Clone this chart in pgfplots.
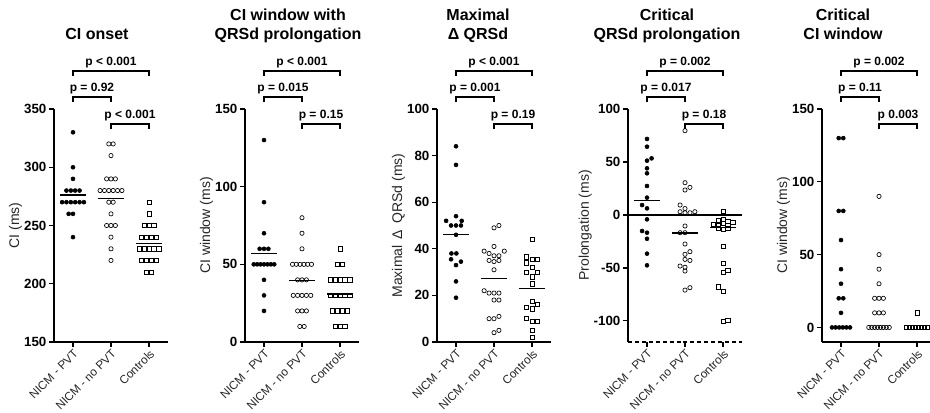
\documentclass[border=0pt]{standalone}
\usepackage{pgfplots}
\pgfplotsset{compat=1.18}
\usepackage{fontspec}
\setmainfont{Liberation Sans}
\newcommand{\pbr}[5]{%
  \draw[line width=1.1pt] ([yshift=-3.5pt]rel axis cs:#1,#3) -- (rel axis cs:#1,#3) -- (rel axis cs:#2,#3) -- ([yshift=-3.5pt]rel axis cs:#2,#3);
  \node[anchor=base, font=\bfseries\fontsize{9}{10}\selectfont, inner sep=0pt] at ([yshift=3.8pt]rel axis cs:#4,#3) {#5};
}
\newcommand{\brackets}[3]{%
  \pbr{0.1667}{0.8333}{1.163}{0.5}{#1}
  \pbr{0.1667}{0.5}{1.052}{0.3333}{#2}
  \pbr{0.5}{0.8333}{0.936}{0.6667}{#3}
}
\begin{document}
\begin{tikzpicture}
\pgfplotsset{
  panel/.style={
    scale only axis, width=85.5pt, height=174.75pt,
    xmin=0.5, xmax=3.5,
    axis x line=bottom, axis y line=left,
    axis line style={-, line width=1.1pt},
    tick style={line width=1pt, black},
    major tick length=3.5pt,
    tick align=outside,
    xtick={1,2,3},
    xticklabels={NICM - PVT, NICM - no PVT, Controls},
    xticklabel style={rotate=45, anchor=north east, font=\fontsize{8.8}{10}\selectfont, inner sep=1pt, text=black!85},
    yticklabel style={font=\bfseries\fontsize{10}{11}\selectfont, inner sep=2pt},
    /pgf/number format/assume math mode=true,
    ylabel style={font=\fontsize{10.5}{12}\selectfont, text=black!85},
    ylabel shift=-4pt,
    clip=false,
    enlargelimits=false,
    anchor=south west,
  },
  pvt/.style={only marks, mark=*, mark size=1.5pt, black},
  npvt/.style={only marks, mark=o, mark size=1.6pt, black, mark options={line width=0.5pt, fill=white}},
  ctrl/.style={only marks, mark=square, mark size=1.6pt, black, mark options={line width=0.5pt}},
  mline/.style={no marks, line width=1.1pt, black},
}
\path[use as bounding box] (0,0) rectangle (697.5pt,309.75pt);

% Panel 1
\begin{axis}[panel, at={(40.5pt,53.25pt)}, ymin=150, ymax=350, ytick={150,200,250,300,350}, ylabel={CI (ms)}]
\addplot[pvt] coordinates {(1,330)(1,300)(1,290)(0.8275,280)(0.9425,280)(1.0575,280)(1.1725,280)(0.7125,270)(0.8275,270)(0.9425,270)(1.0575,270)(1.1725,270)(1.2875,270)(0.885,260)(1.0,260)(1,240)};
\addplot[npvt] coordinates {(1.9425,320)(2.0575,320)(2,310)(1.885,290)(2,290)(2.115,290)(1.7125,280)(1.8275,280)(1.9425,280)(2.0575,280)(2.1725,280)(2.2875,280)(1.9425,270)(2.0575,270)(2,260)(1.885,250)(2,250)(2.115,250)(2,240)(2,230)(2,220)};
\addplot[ctrl] coordinates {(3,270)(3,260)(2.87,250)(3,250)(3.13,250)(2.805,240)(2.935,240)(3.065,240)(3.195,240)(2.74,230)(2.87,230)(3,230)(3.13,230)(3.26,230)(2.805,220)(2.935,220)(3.065,220)(3.195,220)(2.935,210)(3.065,210)};
\addplot[mline] coordinates {(0.66,276.3)(1.34,276.3)};
\addplot[mline] coordinates {(1.66,273.4)(2.34,273.4)};
\addplot[mline] coordinates {(2.66,234.5)(3.34,234.5)};
\brackets{p < 0.001}{p = 0.92}{p < 0.001}
\end{axis}

% Panel 2
\begin{axis}[panel, at={(183.75pt,53.25pt)}, ymin=0, ymax=150, ytick={0,50,100,150}, ylabel={CI window (ms)}]
\addplot[pvt] coordinates {(1,130)(1,90)(1,70)(0.885,60)(1,60)(1.115,60)(0.73,50)(0.82,50)(0.91,50)(1,50)(1.09,50)(1.18,50)(1.27,50)(1,40)(1,30)(1,20)};
\addplot[npvt] coordinates {(2,80)(2,70)(2,60)(1.75,50)(1.85,50)(1.95,50)(2.05,50)(2.15,50)(2.25,50)(1.885,40)(2,40)(2.115,40)(1.77,30)(1.885,30)(2,30)(2.115,30)(2.23,30)(1.885,20)(2,20)(2.115,20)(1.9425,10)(2.0575,10)};
\addplot[ctrl] coordinates {(3,60)(2.935,50)(3.065,50)(2.74,40)(2.87,40)(3,40)(3.13,40)(3.26,40)(2.74,30)(2.87,30)(3,30)(3.13,30)(3.26,30)(2.805,20)(2.935,20)(3.065,20)(3.195,20)(2.87,10)(3,10)(3.13,10)};
\addplot[mline] coordinates {(0.66,57)(1.34,57)};
\addplot[mline] coordinates {(1.66,39.5)(2.34,39.5)};
\addplot[mline] coordinates {(2.66,31)(3.34,31)};
\brackets{p < 0.001}{p = 0.015}{p = 0.15}
\end{axis}

% Panel 3
\begin{axis}[panel, at={(327.75pt,53.25pt)}, ymin=0, ymax=100, ytick={0,20,40,60,80,100}, ylabel={Maximal \,Δ\, QRSd (ms)}]
\addplot[pvt] coordinates {(1,84)(1,76)(1,54)(0.74,52)(1.15,52)(0.87,50)(1,50)(1.13,50)(1,46)(0.88,38)(1.01,38)(0.87,35.5)(1.13,34.5)(1,33)(1,26)(1,19)};
\addplot[npvt] coordinates {(2,49)(2.13,50)(2,41)(1.74,39)(1.87,38)(2,37)(2.13,37)(2.27,39)(1.87,35)(2,34.5)(2.13,35)(2,31)(1.74,22)(1.87,21)(2,21)(2.13,21)(2,18)(2.13,18)(1.87,10)(2,10)(2.13,11)(2,4)(2.13,5)};
\addplot[ctrl] coordinates {(3,44)(2.86,36.5)(2.86,34)(3,35.5)(3.14,35.5)(3,32)(2.86,30)(3.14,30)(3,28)(3,25)(3,17.3)(3.14,16.2)(2.86,15)(3,14.2)(2.86,10.2)(3,9)(3.14,9)(3,5)(3,2)};
\addplot[mline] coordinates {(0.66,46.2)(1.34,46.2)};
\addplot[mline] coordinates {(1.66,27.2)(2.34,27.2)};
\addplot[mline] coordinates {(2.66,23)(3.34,23)};
\brackets{p < 0.001}{p = 0.001}{p = 0.19}
\end{axis}

% Panel 4
\begin{axis}[panel, at={(471pt,53.25pt)}, ymin=-120, ymax=100, ytick={-100,-50,0,50,100}, ylabel={Prolongation (ms)},
  x axis line style={dash pattern=on 3pt off 2.2pt}]
\draw[line width=1.1pt] (axis cs:0.5,0) -- (axis cs:3.5,0);
\addplot[pvt] coordinates {(1,71.7)(1,64.4)(1.12,53.4)(1,51.2)(1,44)(1,39.3)(1,27.3)(1,16.3)(0.87,9.3)(1,6.2)(1,-4.2)(0.87,-15.2)(1,-16.8)(1,-22.5)(1,-36.6)(1,-47.6)};
\addplot[npvt] coordinates {(2,79.5)(2,30.4)(2,23.5)(2.13,26)(1.87,9.3)(2,6)(1.87,3)(2,2)(2.13,2)(2.26,3)(2,-10.5)(1.87,-16.8)(2,-16.8)(2,-27.5)(2.13,-34.7)(2,-37.2)(2,-42)(2.13,-43)(1.87,-48.3)(2,-49.4)(2,-53)(2,-71)(2.13,-68.7)};
\addplot[ctrl] coordinates {(3,3.6)(2.87,-5)(3,-4)(3.13,-6)(3.26,-7)(2.74,-9)(2.87,-10)(3,-8)(3.13,-10)(2.87,-13)(3,-13.5)(3.13,-12.5)(3,-29.4)(3,-45.7)(3.13,-52)(3,-54)(2.87,-67.8)(3,-72.5)(3,-100.8)(3.13,-99.2)};
\addplot[mline] coordinates {(0.66,13.4)(1.34,13.4)};
\addplot[mline] coordinates {(1.66,-17)(2.34,-17)};
\addplot[mline] coordinates {(2.66,-12)(3.34,-12)};
\brackets{p = 0.002}{p = 0.017}{p = 0.18}
\end{axis}

% Panel 5
\begin{axis}[panel, at={(616.5pt,53.25pt)}, ymin=-10, ymax=150, ytick={0,50,100,150}, ylabel={CI window (ms)}]
\addplot[pvt] coordinates {(0.94,130)(1.06,130)(0.94,80)(1.06,80)(1,60)(1,40)(1,30)(0.94,20)(1.06,20)(1,10)(0.7625,0)(0.8575,0)(0.9525,0)(1.0475,0)(1.1425,0)(1.2375,0)};
\addplot[npvt] coordinates {(2,90)(2,50)(2,40)(2,30)(1.885,20)(2,20)(2.115,20)(1.885,10)(2,10)(2.115,10)(1.7305,0)(1.8075,0)(1.8845,0)(1.9615,0)(2.0385,0)(2.1155,0)(2.1925,0)(2.2695,0)};
\addplot[ctrl] coordinates {(3,10)(2.72,0)(2.8,0)(2.88,0)(2.96,0)(3.04,0)(3.12,0)(3.2,0)(3.28,0)};
\brackets{p = 0.002}{p = 0.11}{p 0.003}
\end{axis}

% Titles
\begin{scope}[every node/.style={anchor=base, font=\bfseries\fontsize{12}{14}\selectfont, inner sep=0pt}]
\node at (72.75pt,279.75pt) {CI onset};
\node at (216pt,294pt) {CI window with};
\node at (216pt,279.75pt) {QRSd prolongation};
\node at (358.5pt,294pt) {Maximal};
\node at (358.5pt,279.75pt) {Δ QRSd};
\node at (500.25pt,294pt) {Critical};
\node at (500.25pt,279.75pt) {QRSd prolongation};
\node at (632.25pt,294pt) {Critical};
\node at (632.25pt,279.75pt) {CI window};
\end{scope}
\end{tikzpicture}
\end{document}
